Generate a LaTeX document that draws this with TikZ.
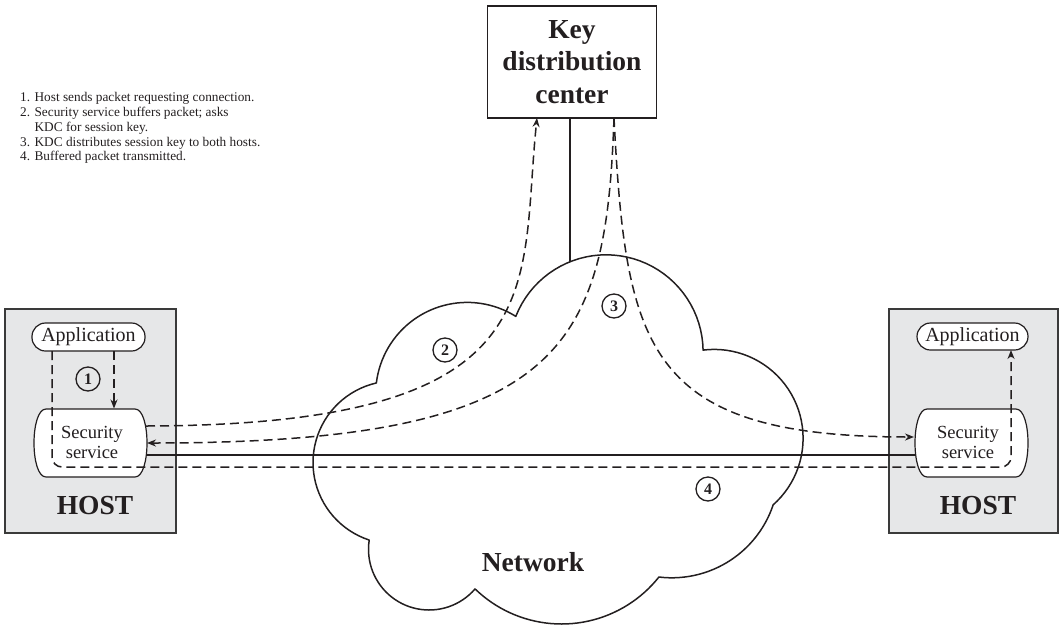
\documentclass[tikz,border=0pt]{standalone}
\usepackage{fontspec}
\setmainfont{Liberation Serif}
\usetikzlibrary{arrows.meta}
\definecolor{ink}{HTML}{231F20}
\definecolor{hostfill}{HTML}{E6E7E8}
\definecolor{hostedge}{HTML}{3A3A3A}
\begin{document}
\begin{tikzpicture}[x=1pt,y=-1pt,
  ln/.style={line width=1.5pt, draw=ink},
  dsh/.style={line width=1.5pt, draw=ink, dash pattern=on 9pt off 5pt},
  arr/.style={-{Stealth[length=9pt,width=7pt]}},
  hostbox/.style={draw=hostedge, fill=hostfill, line width=1.6pt, inner sep=0pt, anchor=north west},
  pill/.style={draw=ink, fill=white, line width=1.2pt, rounded corners=13.5pt, inner sep=0pt,
    font=\fontsize{20}{22}\selectfont, text=ink},
  secshape/.style={draw=ink, fill=white, line width=1.2pt},
  num/.style={circle, draw=ink, line width=1.3pt, minimum size=24pt, inner sep=0pt,
    font=\fontsize{16}{16}\selectfont\bfseries, text=ink},
  lbl/.style={font=\fontsize{18.5}{20}\selectfont, text=ink, align=center, inner sep=0pt},
  big/.style={font=\fontsize{27.5}{32.5}\selectfont\bfseries, text=ink, align=center, inner sep=0pt}
]
\useasboundingbox (0,0) rectangle (1060,627);

% legend
\node[anchor=north west, inner sep=0pt, align=left, text=ink,
      font=\fontsize{13.3}{14.75}\selectfont] (legend) at (20,92.4)
  {1. Host sends packet requesting connection.\\
   2. Security service buffers packet; asks\\
   \phantom{2. }KDC for session key.\\
   3. KDC distributes session key to both hosts.\\
   4. Buffered packet transmitted.};

% hosts
\node[hostbox, minimum width=171pt, minimum height=224pt] (hostL) at (4,308) {};
\node[hostbox, minimum width=169pt, minimum height=224pt] (hostR) at (888,308) {};
\node[big] (hostLt) at (95,506) {HOST};
\node[big] (hostRt) at (978,506) {HOST};

% applications
\node[pill, minimum width=113pt, minimum height=28pt] (appL) at (88.5,337) {Application};
\node[pill, minimum width=111pt, minimum height=27pt] (appR) at (972.5,336.5) {Application};

% security services
\path[secshape] (46,409) -- (135,409) .. controls (151,409) and (151,477) .. (135,477)
  -- (46,477) .. controls (30,477) and (30,409) .. cycle;
\node[lbl] (secL) at (92,442) {Security\\service};
\path[secshape] (927,409) -- (1016,409) .. controls (1032,409) and (1032,477) .. (1016,477)
  -- (927,477) .. controls (911,477) and (911,409) .. cycle;
\node[lbl] (secR) at (968,442) {Security\\service};

% KDC
\node[draw=ink, line width=1.6pt, minimum width=169pt, minimum height=112pt, inner sep=0pt,
      font=\fontsize{27.5}{32.5}\selectfont\bfseries, text=ink, align=center] (kdc) at (572,62)
  {Key\\distribution\\center};

% attachment points
\coordinate (kdcA) at (537,118);
\coordinate (kdcC) at (570,118);
\coordinate (kdcB) at (614,118);
\coordinate (cloudtop) at (570,262);
\coordinate (secL2) at (146,426);
\coordinate (secL3) at (147,443);
\coordinate (secLn) at (146.5,455);
\coordinate (secRn) at (915.5,455);
\coordinate (secR3) at (914,437);
\coordinate (appLa) at (114,351);
\coordinate (secLtop) at (114,408.5);
\coordinate (appLb) at (52,351);
\coordinate (appRb) at (1011,350);
\coordinate (c4a) at (52,467);
\coordinate (c4b) at (1011,467);

% KDC to network
\draw[ln] (kdcC) -- (cloudtop);

% cloud
\draw[ln, line join=round]
  plot[domain=186.8:302.1, samples=40] ({467.2+91.5*cos(\x)},{393.9+91.5*sin(\x)})
  -- plot[domain=-158.3:-1.1, samples=40] ({606.1+97*cos(\x)},{351.8+97*sin(\x)})
  -- plot[domain=-97.2:48.6, samples=40] ({714.2+88.9*cos(\x)},{438.3+88.9*sin(\x)})
  -- plot[domain=18.6:96.9, samples=30] ({671.8+106.9*cos(\x)},{470.9+106.9*sin(\x)})
  -- plot[domain=38.4:134.1, samples=40] ({561.6+124.3*cos(\x)},{499.7+124.3*sin(\x)})
  -- plot[domain=40.8:188.9, samples=40] ({429.1+60.6*cos(\x)},{549.4+60.6*sin(\x)})
  -- plot[domain=108.3:256.8, samples=40] ({394.6+81.6*cos(\x)},{462.5+81.6*sin(\x)})
  -- cycle;
\node[big] (net) at (533,562) {Network};

% network link
\draw[ln] (secLn) -- (secRn);

% step 1
\draw[dsh, arr] (appLa) -- (secLtop);
% step 2
\draw[dsh, arr] (secL2) .. controls (560,425) and (519,289) .. (kdcA);
% step 3
\draw[dsh, arr] (kdcB) .. controls (606,349) and (564,443) .. (secL3);
\draw[dsh, arr] (kdcB) .. controls (626,349) and (646,437) .. (secR3);
% step 4
\draw[dsh, arr, rounded corners=10pt] (appLb) -- (c4a) -- (c4b) -- (appRb);

% step numbers
\node[num] (n1) at (88,379) {1};
\node[num] (n2) at (445,350) {2};
\node[num] (n3) at (614,306) {3};
\node[num] (n4) at (708,489) {4};
\end{tikzpicture}
\end{document}
